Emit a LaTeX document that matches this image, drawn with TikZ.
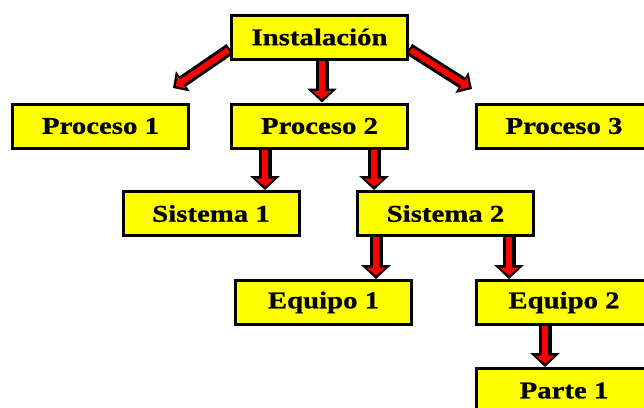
\documentclass[tikz,border=0pt]{standalone}
\usepackage{fontspec}
\setmainfont{Liberation Serif}[FakeStretch=1.2, BoldFeatures={FakeBold=0.8}]
\usetikzlibrary{arrows.meta}
\definecolor{boxyellow}{RGB}{255,255,0}
\definecolor{arrred}{RGB}{255,0,0}
\tikzset{
  item/.style={draw=black, line width=3pt, fill=boxyellow, minimum width=176pt,
    minimum height=44pt, inner sep=0pt, font=\fontsize{24}{24}\selectfont\bfseries},
  arrback/.style={draw=black, line width=13pt,
    -{Triangle[length=14pt,width=29pt]}},
  arrfront/.style={draw=arrred, line width=6pt, shorten >=3.5pt,
    -{Triangle[length=8pt,width=19pt]}},
  darrback/.style={draw=black, line width=12pt,
    -{Triangle[length=12pt,width=24pt]}},
  darrfront/.style={draw=arrred, line width=6pt, shorten >=3.5pt, shorten <=2pt,
    -{Triangle[length=7pt,width=15pt]}},
}
\begin{document}
\begin{tikzpicture}[x=1pt, y=-1pt]
\useasboundingbox (0,0) rectangle (644,407);

% tree of boxes
\node[item] (inst) at (319.5,37)  {Instalación};
\node[item] (p1)   at (100.5,126) {Proceso 1};
\node[item] (p2)   at (319.5,126) {Proceso 2};
\node[item] (p3)   at (564,126)   {Proceso 3};
\node[item] (s1)   at (211,213.5) {Sistema 1};
\node[item] (s2)   at (445.5,213.5) {Sistema 2};
\node[item] (e1)   at (323.5,302.5) {Equipo 1};
\node[item] (e2)   at (564,302.5) {Equipo 2};
\node[item] (pa1)  at (564,390.5) {Parte 1};

% free ends of the two slanted arrows
\coordinate (ltip) at (173,88);
\coordinate (rtip) at (472,89);

% outlined red arrows: black body first, red body on top
\foreach \lay/\dl in {arrback/darrback, arrfront/darrfront}{
  \draw[\dl] ([yshift=-12pt]inst.west) -- (ltip);
  \draw[\dl] ([yshift=-12pt]inst.east) -- (rtip);
  \draw[\lay] ([xshift=2.5pt]inst.south) -- ([xshift=2.5pt]inst.south |- p2.north);
  \draw[\lay] ([xshift=-54.5pt]p2.south) -- ([xshift=-54.5pt]p2.south |- s1.north);
  \draw[\lay] ([xshift=54.5pt]p2.south) -- ([xshift=54.5pt]p2.south |- s2.north);
  \draw[\lay] ([xshift=-69.5pt]s2.south) -- ([xshift=-69.5pt]s2.south |- e1.north);
  \draw[\lay] ([xshift=63.5pt]s2.south) -- ([xshift=63.5pt]s2.south |- e2.north);
  \draw[\lay] ([xshift=-19pt]e2.south) -- ([xshift=-19pt]e2.south |- pa1.north);
}
\end{tikzpicture}
\end{document}
